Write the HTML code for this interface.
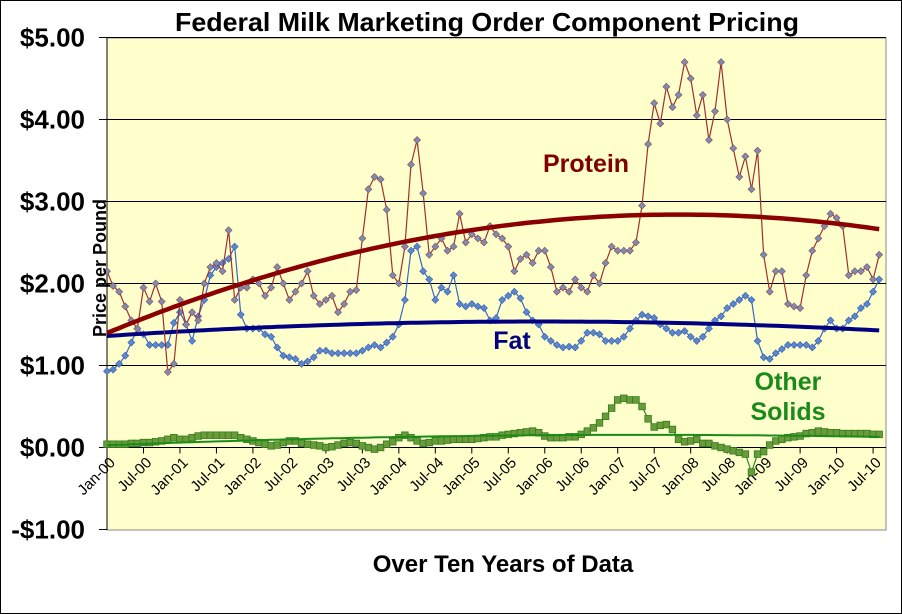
<!DOCTYPE html>
<html><head><meta charset="utf-8"><style>
body{margin:0;background:#fff;}
svg{display:block;font-family:"Liberation Sans",Arial,sans-serif;}
</style></head><body>
<svg id="chart" width="902" height="614" viewBox="0 0 902 614">
<rect x="0.5" y="0.5" width="901" height="613" fill="#fff" stroke="#000"/>
<text x="487" y="31" text-anchor="middle" font-size="26" font-weight="bold" textLength="624" lengthAdjust="spacingAndGlyphs">Federal Milk Marketing Order Component Pricing</text>
<rect x="107" y="38" width="779" height="492" fill="#FFFFCC" stroke="#888"/>
<g id="grid"></g><g id="axes"></g><g id="series"></g>
<text transform="translate(106,268) rotate(-90)" text-anchor="middle" font-size="18" font-weight="bold">Price per Pound</text>
<text x="503" y="572" text-anchor="middle" font-size="24" font-weight="bold">Over Ten Years of Data</text>
<text x="586" y="172" text-anchor="middle" font-size="25" font-weight="bold" fill="#800000">Protein</text>
<text x="512" y="349" text-anchor="middle" font-size="25" font-weight="bold" fill="#000080">Fat</text>
<text x="788" y="390" text-anchor="middle" font-size="25" font-weight="bold" fill="#1a8a1a"><tspan x="788">Other</tspan><tspan x="788" dy="30">Solids</tspan></text>
</svg>
<script>
const yTicks=[5,4,3,2,1,0,-1];
const yTickLabels=["$5.00","$4.00","$3.00","$2.00","$1.00","$0.00","-$1.00"];
const xTickLabels=["Jan-00","Jul-00","Jan-01","Jul-01","Jan-02","Jul-02","Jan-03","Jul-03","Jan-04","Jul-04","Jan-05","Jul-05","Jan-06","Jul-06","Jan-07","Jul-07","Jan-08","Jul-08","Jan-09","Jul-09","Jan-10","Jul-10"];
const protein=[2.15,1.97,1.90,1.72,1.55,1.45,1.95,1.78,2.00,1.78,0.92,1.02,
1.80,1.50,1.65,1.55,2.00,2.20,2.25,2.15,2.65,1.80,1.95,1.95,
2.05,2.00,1.85,1.95,2.20,2.00,1.80,1.90,2.00,2.15,1.85,1.75,
1.80,1.85,1.65,1.75,1.90,1.92,2.55,3.15,3.30,3.27,2.90,2.10,
2.00,2.45,3.45,3.75,3.10,2.35,2.45,2.55,2.40,2.45,2.85,2.50,
2.60,2.55,2.50,2.70,2.60,2.55,2.45,2.15,2.30,2.35,2.25,2.40,
2.40,2.20,1.90,1.95,1.90,2.05,1.95,1.90,2.10,2.00,2.25,2.45,
2.40,2.40,2.40,2.50,2.95,3.70,4.20,3.95,4.40,4.15,4.30,4.70,
4.50,4.05,4.30,3.75,4.10,4.70,4.00,3.65,3.30,3.55,3.15,3.62,
2.35,1.90,2.15,2.15,1.75,1.72,1.70,2.10,2.40,2.55,2.70,2.85,
2.80,2.70,2.10,2.15,2.15,2.20,2.05,2.35];
const fat=[0.93,0.95,1.02,1.12,1.28,1.45,1.38,1.25,1.25,1.25,1.25,1.52,
1.65,1.50,1.30,1.60,1.80,2.10,2.20,2.25,2.30,2.45,1.62,1.45,
1.45,1.45,1.38,1.35,1.22,1.12,1.10,1.08,1.02,1.05,1.10,1.18,
1.18,1.15,1.15,1.15,1.15,1.15,1.18,1.22,1.25,1.22,1.28,1.35,
1.50,1.80,2.40,2.45,2.15,2.05,1.80,1.95,1.90,2.10,1.75,1.72,
1.75,1.72,1.70,1.55,1.58,1.80,1.85,1.90,1.82,1.65,1.55,1.50,
1.35,1.30,1.25,1.22,1.23,1.22,1.30,1.40,1.40,1.38,1.30,1.30,
1.30,1.35,1.45,1.55,1.62,1.60,1.58,1.50,1.45,1.40,1.40,1.42,
1.35,1.30,1.35,1.45,1.55,1.60,1.70,1.75,1.80,1.85,1.80,1.30,
1.10,1.08,1.15,1.20,1.25,1.25,1.25,1.25,1.22,1.30,1.45,1.55,
1.45,1.45,1.55,1.60,1.70,1.75,1.90,2.05];
const otherSolids=[0.04,0.04,0.04,0.04,0.05,0.05,0.06,0.06,0.07,0.08,0.10,0.12,
0.10,0.10,0.12,0.14,0.15,0.15,0.15,0.15,0.15,0.15,0.12,0.10,
0.08,0.06,0.04,0.02,0.03,0.06,0.08,0.08,0.05,0.04,0.03,0.02,
0.00,0.01,0.03,0.05,0.06,0.05,0.02,0.00,-0.02,0.00,0.04,0.07,
0.12,0.15,0.12,0.08,0.05,0.06,0.08,0.08,0.09,0.10,0.10,0.10,
0.10,0.11,0.12,0.13,0.13,0.15,0.16,0.17,0.18,0.19,0.20,0.18,
0.14,0.12,0.12,0.12,0.13,0.13,0.16,0.20,0.24,0.30,0.38,0.48,
0.58,0.60,0.58,0.58,0.50,0.35,0.25,0.27,0.28,0.22,0.10,0.07,
0.08,0.10,0.05,0.05,0.02,0.00,-0.02,-0.04,-0.06,-0.08,-0.30,-0.08,
-0.05,0.03,0.08,0.10,0.12,0.13,0.14,0.17,0.18,0.20,0.19,0.18,
0.18,0.17,0.17,0.17,0.17,0.17,0.16,0.16];

const NS="http://www.w3.org/2000/svg";
const X0=107,PX=6.08,Y0=447.5,PY=82;
function xs(i){return X0+i*PX;}
function ys(v){return Y0-v*PY;}
function mk(tag,attrs,parent){const e=document.createElementNS(NS,tag);for(const k in attrs)e.setAttribute(k,attrs[k]);parent.appendChild(e);return e;}
const grid=document.getElementById('grid'),axes=document.getElementById('axes'),ser=document.getElementById('series');
yTicks.forEach((t,k)=>{
  if(t!==0&&t!==-1){const g=mk('line',{x1:X0,x2:886,y1:ys(t),y2:ys(t),stroke:'#000','stroke-width':1},grid);
  
  }
  const tk=mk('line',{x1:X0-8,x2:X0,y1:ys(t),y2:ys(t),stroke:'#000'},axes);
  
  
  const tl=mk('text',{x:85,y:ys(t)+9,'text-anchor':'end','font-size':26,'font-weight':'bold'},axes);
  tl.textContent=yTickLabels[k];
  
  
});
const ya=mk('line',{x1:X0,x2:X0,y1:38,y2:530,stroke:'#000'},axes);


const xa=mk('line',{x1:X0,x2:886,y1:Y0,y2:Y0,stroke:'#000'},axes);


xTickLabels.forEach((l,k)=>{
  const x=xs(k*6);
  const tk=mk('line',{x1:x,x2:x,y1:Y0,y2:Y0+6,stroke:'#000'},axes);
  
  
  const tl=mk('text',{transform:`translate(${x+9},${Y0+16}) rotate(-45)`,'text-anchor':'end','font-size':15},axes);
  tl.textContent=l;
  
  
});
function quadFit(d){
  let S=[0,0,0,0,0],T=[0,0,0];
  d.forEach((y,i)=>{let p=1;for(let k=0;k<5;k++){S[k]+=p;if(k<3)T[k]+=p*y;p*=i;}});
  const M=[[S[0],S[1],S[2],T[0]],[S[1],S[2],S[3],T[1]],[S[2],S[3],S[4],T[2]]];
  for(let c=0;c<3;c++){for(let r=c+1;r<3;r++){const f=M[r][c]/M[c][c];for(let k=c;k<4;k++)M[r][k]-=f*M[c][k];}}
  const s=[0,0,0];for(let r=2;r>=0;r--){let v=M[r][3];for(let k=r+1;k<3;k++)v-=M[r][k]*s[k];s[r]=v/M[r][r];}
  return i=>s[0]+s[1]*i+s[2]*i*i;
}
function draw(d,name,lineCol,mFill,mStroke,shape,trendCol,trendW){
  const f=quadFit(d);
  const tp=d.map((_,i)=>xs(i).toFixed(1)+','+ys(f(i)).toFixed(1)).join(' ');
  const pts=d.map((v,i)=>xs(i).toFixed(1)+','+ys(v).toFixed(1)).join(' ');
  const l=mk('polyline',{points:pts,fill:'none',stroke:lineCol,'stroke-width':1.2},ser);
  
  
  d.forEach((v,i)=>{
    const x=xs(i),y=ys(v);let m;
    if(shape==='d')m=mk('polygon',{points:`${x},${y-3.5} ${x+3.5},${y} ${x},${y+3.5} ${x-3.5},${y}`,fill:mFill,stroke:mStroke,'stroke-width':0.6},ser);
    else m=mk('rect',{x:x-3.3,y:y-3.3,width:6.6,height:6.6,fill:mFill,stroke:mStroke,'stroke-width':0.8},ser);
    
    
  });
  const t=mk('polyline',{points:tp,fill:'none',stroke:trendCol,'stroke-width':trendW},ser);
  
  
}
draw(otherSolids,'other-solids','#2e8b1e','#6b9a3a','#2e7d1e','s','#1a8a1a',2);
draw(fat,'fat','#3a66c4','#5b86d0','#3a5ea8','d','#000080',4);
draw(protein,'protein','#a03030','#7b8cb5','#8a4a4a','d','#8b0000',4.5);
</script>
</body></html>
